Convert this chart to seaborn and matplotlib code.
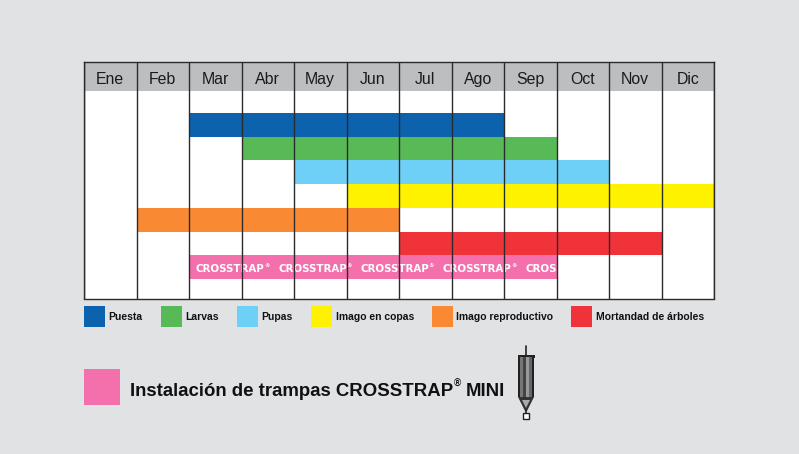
import matplotlib
matplotlib.use('Agg')
import matplotlib.pyplot as plt
from matplotlib.patches import Rectangle, Polygon
import numpy as np
import pandas as pd
import seaborn as sns

months = ['Ene', 'Feb', 'Mar', 'Abr', 'May', 'Jun', 'Jul', 'Ago', 'Sep', 'Oct', 'Nov', 'Dic']
stages = ['Puesta', 'Larvas', 'Pupas', 'Imago en copas', 'Imago reproductivo', 'Mortandad de árboles', 'Instalación de trampas']
# first month index and number of months of each stage
starts = [2, 3, 4, 5, 1, 6, 2]
durations = [6, 6, 6, 7, 5, 5, 7]
colors = ['#0D62AE', '#58BA56', '#6FD0F7', '#FFF200', '#F98A33', '#EF3338', '#F470AD']

W, H = 799, 454
bg = '#E1E2E4'
header = '#BDBEC0'
dark = '#2B2B2B'

sns.set_theme(style='white')
plt.rcParams['font.family'] = ['Liberation Sans']

fig = plt.figure(figsize=(W / 100, H / 100), dpi=100, facecolor=bg)

# pixel overlay for legend and trap drawing
over = fig.add_axes([0, 0, 1, 1])
over.set_xlim(0, W)
over.set_ylim(H, 0)
over.axis('off')

left, right, top, bottom = 84, 714, 62.5, 298.5
ax = fig.add_axes([left / W, 1 - bottom / H, (right - left) / W, (bottom - top) / H])
ax.set_facecolor('white')

df = pd.DataFrame({'stage': stages, 'start': starts, 'months': durations})
for i, stage in enumerate(stages):
    sns.barplot(data=df[df.stage == stage], x='months', y='stage', order=stages, orient='h',
                left=starts[i], color=colors[i], saturation=1, width=1, ax=ax, zorder=2,
                edgecolor='none', linewidth=0)

row = 23.7
ymin = -0.5 - (113 - top) / row
ymax = 6.5 + (bottom - 279) / row
ax.set_xlim(0, 12)
ax.set_ylim(ymax, ymin)
ax.axhspan(ymin, -0.5 - (113 - 91) / row, color=header, lw=0, zorder=1)
ax.set_xlabel('')
ax.set_ylabel('')
ax.set_yticks([])
ax.set_xticks(range(13))
ax.set_xticklabels([])
ax.tick_params(length=0)
ax.set_axisbelow(False)
ax.grid(axis='x', color=dark, lw=1)
ax.grid(axis='y', visible=False)
for line in ax.get_xgridlines():
    line.set_zorder(3)
for s in ax.spines.values():
    s.set_color(dark)
    s.set_linewidth(1)
    s.set_zorder(4)

for i, m in enumerate(months):
    ax.text(i + 0.5, ymin + (79 - top) / row, m, ha='center', va='center', fontsize=11.4, color='#1A1A1A', zorder=5)

# repeated logo text inside the pink bar, cut at the end of the bar
pink_bar = [p for p in ax.patches if p.get_width() == durations[-1] and p.get_x() == starts[-1]][-1]
for k in range(5):
    px = 196 + k * 82.3
    t = ax.text((px - left) / 52.5, 6.07, 'CROSSTRAP', color='white', fontsize=7.4, family='DejaVu Sans',
                fontweight='bold', va='center', ha='left', zorder=2.5)
    t.set_clip_path(pink_bar)
    t2 = ax.text((px + 68 - left) / 52.5, 5.92, '®', color='white', fontsize=4, family='DejaVu Sans',
                 fontweight='bold', va='center', ha='left', zorder=2.5)
    t2.set_clip_path(pink_bar)

# legend row
swatch_x = [84, 160.5, 237, 311, 432, 571]
label_x = [108.5, 185.5, 261.5, 336.5, 456.5, 595.5]
for i in range(6):
    over.add_patch(Rectangle((swatch_x[i], 306), 21, 21, color=colors[i], lw=0))
    over.text(label_x[i], 317, stages[i], fontweight='bold', fontsize=7.5,
              va='center', ha='left', color='#111111')

over.add_patch(Rectangle((84, 369), 36, 36, color=colors[6], lw=0))
over.text(130, 391, 'Instalación de trampas CROSSTRAP', fontweight='bold', fontsize=13.4,
          va='center', ha='left', color='#111111')
over.text(453.5, 384, '®', fontweight='bold', fontsize=7, va='center', ha='left', color='#111111')
over.text(466, 391, 'MINI', fontweight='bold', fontsize=13.4, va='center', ha='left', color='#111111')

# trap icon
over.plot([526, 526], [346, 355], color='#222222', lw=1.2)
over.add_patch(Rectangle((517.5, 355), 17, 2.5, color='#222222', lw=0))
band_x = [518, 520, 523, 526, 529, 532]
band_w = [2, 3, 3, 3, 3, 2]
band_c = ['#222222', '#777777', '#444444', '#999999', '#666666', '#222222']
for x, w, c in zip(band_x, band_w, band_c):
    over.add_patch(Rectangle((x, 357), w, 40, color=c, lw=0))
over.add_patch(Polygon([(518, 397), (534, 397), (527, 411), (525, 411)], color='#333333', lw=0))
over.add_patch(Polygon([(522, 400), (530, 400), (526, 408)], color='#AAAAAA', lw=0))
over.plot([526, 526], [410, 413], color='#222222', lw=1.2)
over.add_patch(Rectangle((523, 413), 6, 6, facecolor='white', edgecolor='#222222', lw=1))

fig.savefig('out.png', dpi=100, facecolor=bg)
